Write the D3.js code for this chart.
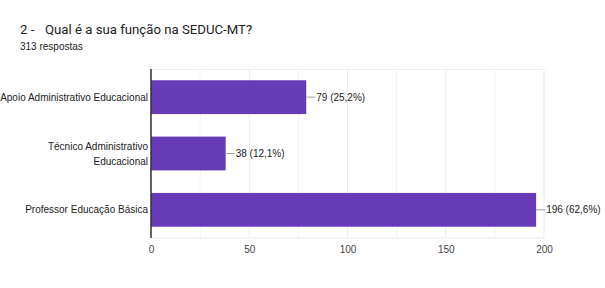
<!DOCTYPE html>
<html>
<head>
<meta charset="utf-8">
<script src="https://cdn.jsdelivr.net/npm/d3@7"></script>
<style>
  body { margin: 0; background: #fff; }
  svg text { font-family: "Liberation Sans", Arial, sans-serif; }
</style>
</head>
<body>
<svg id="chart" width="605" height="288"></svg>
<script>
const categories = ['Apoio Administrativo Educacional', 'Técnico Administrativo Educacional', 'Professor Educação Básica'];
const counts = [79, 38, 196];
const percents = ['25,2%', '12,1%', '62,6%'];
const ticks = [0, 50, 100, 150, 200];
const minorTicks = [25, 75, 125, 175];

const svg = d3.select('#chart');
const margin = { top: 69, left: 151, right: 61, bottom: 50 };
const width = 605, height = 288;

// title
const title = svg.append('text')
  .attr('y', 34)
  .attr('font-size', 13.2).attr('fill', '#202124')
  .style('font-family', 'Roboto, Arial, sans-serif');
title.append('tspan').attr('x', 20).text('2 -');
title.append('tspan').attr('x', 45).text('Qual é a sua função na SEDUC-MT?');
svg.append('text')
  .attr('x', 20).attr('y', 50)
  .attr('font-size', 10).attr('fill', '#202124')
  .text('313 respostas');

const x = d3.scaleLinear().domain([0, 200]).range([margin.left, width - margin.right]);
const y = d3.scaleBand().domain(categories).range([margin.top, height - margin.bottom]).paddingInner(0.4).paddingOuter(0.2);

// grid
svg.selectAll('.grid')
  .data(ticks.concat(minorTicks))
  .enter().append('line')
  .attr('x1', d => x(d)).attr('x2', d => x(d))
  .attr('y1', margin.top).attr('y2', height - margin.bottom)
  .attr('stroke', d => d % 50 === 0 ? '#ebebeb' : '#f3f3f3')
  .attr('stroke-width', 1);
svg.append('line')
  .attr('x1', margin.left).attr('x2', x(200))
  .attr('y1', margin.top + 0.5).attr('y2', margin.top + 0.5)
  .attr('stroke', '#ebebeb');
svg.append('line')
  .attr('x1', margin.left).attr('x2', x(200))
  .attr('y1', height - margin.bottom).attr('y2', height - margin.bottom)
  .attr('stroke', '#ebebeb');

// bars
svg.selectAll('.bar')
  .data(categories)
  .enter().append('rect')
  .attr('x', x(0))
  .attr('y', d => y(d))
  .attr('width', (d, i) => x(counts[i]) - x(0))
  .attr('height', y.bandwidth())
  .attr('fill', '#673ab7');

// value labels with leader line
categories.forEach((c, i) => {
  const cy = y(c) + y.bandwidth() / 2;
  const xe = x(counts[i]);
  svg.append('line')
    .attr('x1', xe).attr('x2', xe + 9)
    .attr('y1', cy).attr('y2', cy)
    .attr('stroke', '#9e9e9e').attr('stroke-width', 1);
  svg.append('text')
    .attr('x', xe + 10).attr('y', cy)
    .attr('dy', '0.35em')
    .attr('font-size', 10).attr('fill', '#222')
    .text(`${counts[i]} (${percents[i]})`);
});

// category labels
const labelLines = {
  'Técnico Administrativo Educacional': ['Técnico Administrativo', 'Educacional']
};
categories.forEach(c => {
  const lines = labelLines[c] || [c];
  const cy = y(c) + y.bandwidth() / 2;
  const t = svg.append('text')
    .attr('text-anchor', 'end')
    .attr('font-size', 10).attr('fill', '#222');
  lines.forEach((l, j) => {
    t.append('tspan')
      .attr('x', margin.left - 3)
      .attr('y', cy + (j - (lines.length - 1) / 2) * 15)
      .attr('dy', '0.35em')
      .text(l);
  });
});

// baseline axis
svg.append('line')
  .attr('x1', margin.left).attr('x2', margin.left)
  .attr('y1', margin.top).attr('y2', height - margin.bottom)
  .attr('stroke', '#333').attr('stroke-width', 1.5);

// x axis labels
const xAxis = d3.axisBottom(x).tickValues(ticks).tickSize(0).tickPadding(7);
const g = svg.append('g')
  .attr('transform', `translate(0,${height - margin.bottom + 1})`)
  .call(xAxis);
g.select('.domain').remove();
g.selectAll('text').attr('font-size', 10).attr('fill', '#444').attr('font-family', '"Liberation Sans", Arial, sans-serif');
</script>
</body>
</html>
